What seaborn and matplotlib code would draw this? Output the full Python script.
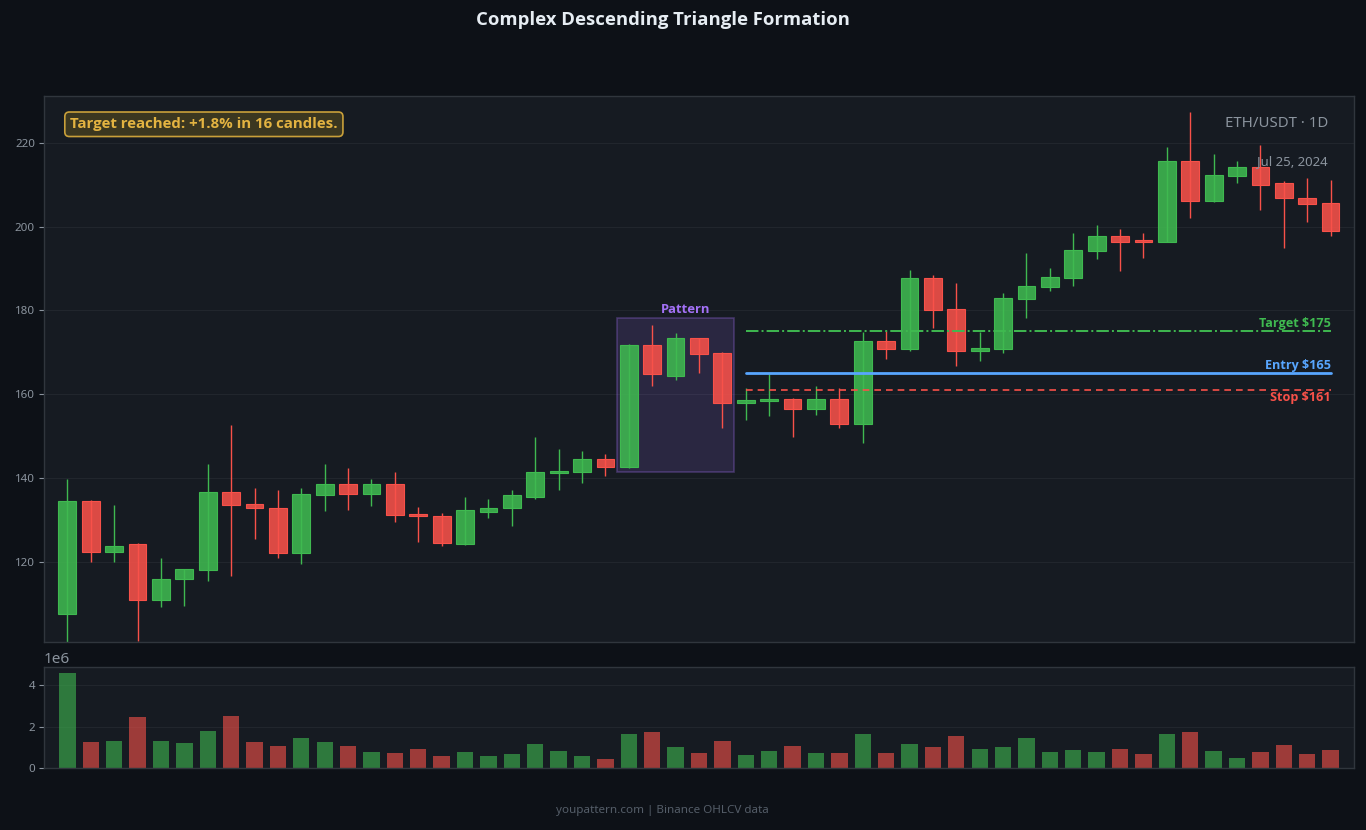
import numpy as np
import pandas as pd
import matplotlib
matplotlib.use("Agg")
import matplotlib.pyplot as plt
import matplotlib.patches as mpatches
from matplotlib.colors import to_rgba
from matplotlib import font_manager
import seaborn as sns

# ---------------- data ----------------
opens = [107.6, 134.4, 122.3, 124.1, 110.9, 115.8, 118.1, 136.5, 133.7, 132.9,
         122.1, 135.8, 138.6, 136.1, 138.6, 131.4, 131.0, 124.3, 131.9, 132.7,
         135.5, 141.2, 141.3, 144.4, 142.7, 171.7, 164.4, 173.4, 169.8, 157.9,
         158.3, 158.8, 156.4, 158.8, 152.8, 172.6, 170.8, 187.7, 180.3, 170.3,
         170.8, 182.7, 185.6, 187.8, 194.2, 197.8, 196.6, 196.3, 215.7, 206.1,
         212.1, 214.3, 210.3, 206.9, 205.6]
highs = [139.7, 134.7, 133.5, 124.4, 120.8, 118.3, 143.3, 152.6, 137.5, 137.1,
         137.5, 143.3, 142.3, 139.7, 141.4, 133.0, 131.7, 135.4, 135.0, 137.1,
         149.7, 146.9, 146.4, 145.7, 172.0, 176.4, 174.6, 173.4, 170.1, 161.5,
         164.8, 159.1, 162.0, 161.5, 174.7, 175.1, 189.7, 188.5, 186.6, 174.7,
         184.2, 193.8, 190.0, 198.5, 200.3, 199.3, 198.5, 218.9, 227.4, 217.3,
         215.6, 219.4, 210.8, 211.7, 211.0]
lows = [100.6, 119.9, 119.9, 101.0, 109.1, 109.5, 115.3, 116.5, 125.5, 120.9,
        119.5, 132.1, 132.4, 133.2, 129.4, 124.7, 123.8, 124.0, 130.3, 128.5,
        135.0, 137.1, 138.8, 140.5, 142.4, 162.0, 163.4, 165.0, 151.9, 153.8,
        154.8, 149.8, 155.0, 152.0, 148.2, 168.3, 170.3, 175.7, 166.6, 168.0,
        169.7, 178.2, 184.7, 185.7, 192.2, 189.3, 192.5, 196.2, 202.1, 205.8,
        210.4, 203.9, 194.9, 201.0, 197.7]
closes = [134.4, 122.3, 123.8, 110.9, 115.9, 118.3, 136.5, 133.4, 132.7, 122.1,
          136.1, 138.6, 136.1, 138.6, 131.2, 131.0, 124.4, 132.2, 132.9, 135.8,
          141.5, 141.5, 144.4, 142.7, 171.7, 164.7, 173.4, 169.5, 157.8, 158.5,
          158.9, 156.4, 158.8, 152.8, 172.6, 170.8, 187.7, 180.1, 170.3, 170.9,
          182.9, 185.8, 188.0, 194.4, 197.8, 196.3, 196.3, 215.7, 206.1, 212.4,
          214.3, 210.0, 206.7, 205.5, 199.0]
volumes_m = [4.61, 1.25, 1.30, 2.45, 1.30, 1.20, 1.78, 2.50, 1.25, 1.06,
             1.44, 1.25, 1.06, 0.77, 0.72, 0.91, 0.58, 0.77, 0.58, 0.67,
             1.15, 0.82, 0.58, 0.43, 1.63, 1.73, 1.01, 0.72, 1.30, 0.62,
             0.82, 1.06, 0.72, 0.72, 1.63, 0.72, 1.15, 1.01, 1.54, 0.91,
             1.01, 1.44, 0.77, 0.86, 0.77, 0.91, 0.67, 1.63, 1.73, 0.82,
             0.48, 0.77, 1.10, 0.67, 0.86]
volumes = [v * 1e6 for v in volumes_m]

pattern_start, pattern_end = 24, 28
pattern_low, pattern_high = 141.4, 178.2
level_start, level_end = 29, 54
target_price, entry_price, stop_price = 175, 165, 161

title = "Complex Descending Triangle Formation"
note = "Target reached: +1.8% in 16 candles."
symbol_txt = "ETH/USDT \u00b7 1D"
date_txt = "Jul 25, 2024"
footer = "youpattern.com | Binance OHLCV data"

# ---------------- style ----------------
BG = "#0d1117"
PANEL = "#161b22"
GRID = "#21262d"
SPINE = "#30363d"
MUTED = "#8b949e"
UP = "#3fb950"
DOWN = "#f85149"
BLUE = "#58a6ff"
PURPLE = "#a371f7"
GOLD = "#e3b341"

sns.set_theme(style="dark", rc={
    "figure.facecolor": BG,
    "axes.facecolor": PANEL,
    "axes.edgecolor": SPINE,
    "grid.color": GRID,
    "text.color": MUTED,
    "axes.labelcolor": MUTED,
    "xtick.color": MUTED,
    "ytick.color": MUTED,
})
plt.rcParams["font.family"] = ["Noto Sans", "DejaVu Sans"]

# find a family that really has a bold face
def _bold_family():
    prefs = ["Noto Sans", "Open Sans", "Lato", "Roboto", "Inter", "DejaVu Sans"]
    have = {}
    for f in font_manager.fontManager.ttflist:
        w = f.weight
        if isinstance(w, str):
            w = 700 if "bold" in w.lower() else 400
        if w >= 600 and f.style == "normal":
            have[f.name] = True
    for p in prefs:
        if have.get(p):
            return p
    return "DejaVu Sans"

BOLD_FAM = [_bold_family(), "DejaVu Sans"]

fig = plt.figure(figsize=(13.66, 8.30), dpi=100, facecolor=BG)
ax = fig.add_axes([0.0322, 0.2265, 0.959, 0.658])
axv = fig.add_axes([0.0322, 0.0747, 0.959, 0.1217])

n = len(opens)
idx = np.arange(n)
o = np.array(opens); h = np.array(highs); l = np.array(lows); c = np.array(closes)
up = c >= o
cols = [UP if u else DOWN for u in up]

# ---------------- candles ----------------
ax.vlines(idx, l, h, colors=cols, linewidth=1.0, zorder=2)
bottoms = np.minimum(o, c)
heights = np.maximum(np.abs(c - o), 0.45)
ax.bar(idx, heights, bottom=bottoms, width=0.76,
       color=[to_rgba(cc, 0.88) for cc in cols],
       edgecolor=[to_rgba(cc, 1.0) for cc in cols], linewidth=0.8, zorder=3)

# pattern box
rect = mpatches.Rectangle((pattern_start - 0.5, pattern_low),
                          pattern_end - pattern_start + 1, pattern_high - pattern_low,
                          facecolor=to_rgba(PURPLE, 0.15), edgecolor=to_rgba(PURPLE, 0.3),
                          linewidth=1.2, zorder=1)
ax.add_patch(rect)
ax.text(26.45, pattern_high + 0.4, "Pattern", ha="center", va="bottom",
        color=PURPLE, fontsize=9.4, fontweight="bold", family=BOLD_FAM, zorder=5)

# levels
ax.plot([level_start, level_end], [target_price, target_price], color=UP,
        linestyle="-.", linewidth=1.4, zorder=4)
ax.plot([level_start, level_end], [entry_price, entry_price], color=BLUE,
        linestyle="-", linewidth=2.0, zorder=4)
ax.plot([level_start, level_end], [stop_price, stop_price], color=DOWN,
        linestyle=(0, (4, 3)), linewidth=1.2, zorder=4)
ax.text(level_end, target_price + 0.3, f"Target ${target_price}", ha="right", va="bottom",
        color=UP, fontsize=9.1, fontweight="bold", family=BOLD_FAM, zorder=5)
ax.text(level_end, entry_price + 0.3, f"Entry ${entry_price}", ha="right", va="bottom",
        color=BLUE, fontsize=9.1, fontweight="bold", family=BOLD_FAM, zorder=5)
ax.text(level_end, stop_price - 0.3, f"Stop ${stop_price}", ha="right", va="top",
        color=DOWN, fontsize=9.1, fontweight="bold", family=BOLD_FAM, zorder=5)

# annotations
ax.text(0.0199, 0.948, note, transform=ax.transAxes, ha="left", va="center",
        color=GOLD, fontsize=10.8, fontweight="bold", family=BOLD_FAM, zorder=6,
        bbox=dict(boxstyle="round,pad=0.35,rounding_size=0.3", facecolor="#3b3720",
                  edgecolor="#c9a03a", linewidth=1.2))
ax.text(0.980, 0.949, symbol_txt, transform=ax.transAxes, ha="right", va="center",
        color=MUTED, fontsize=10.8)
ax.text(0.980, 0.879, date_txt, transform=ax.transAxes, ha="right", va="center",
        color=MUTED, fontsize=9.5)

ax.set_xlim(-1, n)
ax.set_ylim(100.8, 231.2)
ax.set_yticks([120, 140, 160, 180, 200, 220])
ax.set_xticks([])
ax.grid(axis="y", color=GRID, linewidth=0.8)
ax.grid(axis="x", visible=False)
ax.set_axisbelow(True)
ax.tick_params(axis="y", left=True, length=3.5, width=0.8, color=MUTED,
               labelsize=8.3, labelcolor=MUTED, pad=3)
for s in ax.spines.values():
    s.set_color(SPINE); s.set_linewidth(1.0)

# ---------------- volume (seaborn) ----------------
vdf = pd.DataFrame({"idx": idx, "volume": volumes,
                    "dir": ["up" if u else "down" for u in up]})
sns.barplot(data=vdf, x="idx", y="volume", hue="dir",
            palette={"up": UP, "down": DOWN}, native_scale=True, dodge=False,
            width=0.7, alpha=0.6, saturation=1, errorbar=None, legend=False,
            linewidth=0, ax=axv)
axv.set_xlim(-1, n)
axv.set_ylim(0, max(volumes) * 1.06)
axv.set_yticks([0, 2e6, 4e6])
axv.set_xticks([])
axv.set_xlabel("")
axv.set_ylabel("")
axv.grid(axis="y", color=GRID, linewidth=0.8)
axv.grid(axis="x", visible=False)
axv.set_axisbelow(True)
axv.tick_params(axis="y", left=True, length=3.5, width=0.8, color=MUTED,
                labelsize=8.3, labelcolor=MUTED, pad=3)
axv.yaxis.get_offset_text().set_fontsize(11)
axv.yaxis.get_offset_text().set_color(MUTED)
for s in axv.spines.values():
    s.set_color(SPINE); s.set_linewidth(1.0)

# ---------------- titles ----------------
fig.text(0.485, 0.976, title, ha="center", va="center", color="#e6edf3",
         fontsize=13.3, fontweight="bold", family=BOLD_FAM)
fig.text(0.485, 0.024, footer, ha="center", va="center", color="#545d68",
         fontsize=8.4)

fig.savefig("out.png", dpi=100, facecolor=BG)
